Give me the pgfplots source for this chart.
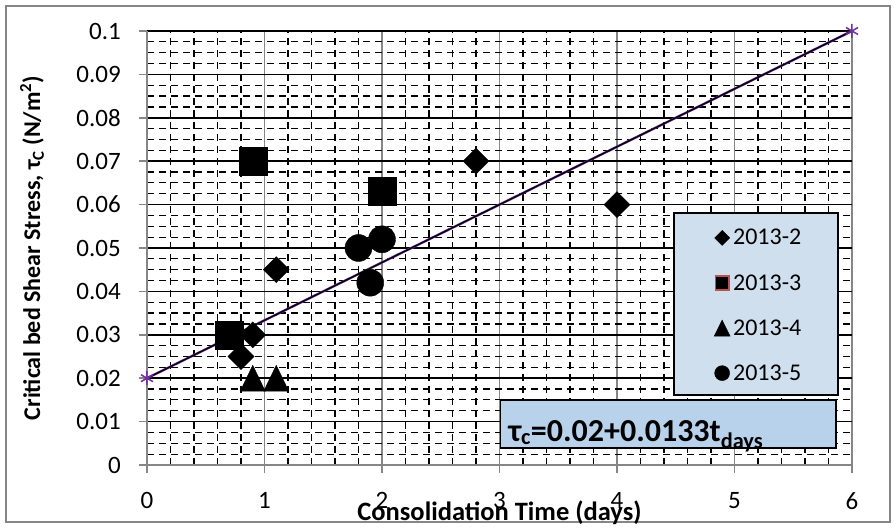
\documentclass[border=0pt]{standalone}
\usepackage{fontspec}
\setmainfont{Carlito}
\usepackage{pgfplots}
\pgfplotsset{compat=1.18}
\definecolor{gridgray}{RGB}{134,134,134}
\definecolor{trendpurple}{RGB}{112,48,160}
\definecolor{legfill}{RGB}{208,223,238}
\definecolor{eqfill}{RGB}{185,210,236}
\definecolor{sqedge}{RGB}{192,80,77}
\begin{document}
\begin{tikzpicture}
\useasboundingbox (-147pt,-64pt) rectangle (747pt,465pt);
\draw[gridgray, line width=1.5pt] (-141pt,-57pt) rectangle (743pt,459pt);
\begin{axis}[
  at={(0pt,0pt)}, anchor=south west,
  scale only axis, width=705pt, height=434pt,
  xmin=0, xmax=6, ymin=0, ymax=0.1,
  clip=false,
  xtick={0,1,2,3,4,5,6},
  ytick={0,0.01,0.02,0.03,0.04,0.05,0.06,0.07,0.08,0.09,0.1},
  minor x tick num=4, minor y tick num=3,
  grid=both,
  major x grid style={gridgray, line width=1.5pt},
  minor x grid style={black, line width=1.2pt, dash pattern=on 7pt off 5pt},
  major y grid style={black, line width=1.5pt},
  minor y grid style={black, line width=1.2pt, dash pattern=on 7pt off 5pt},
  axis x line*=bottom, axis y line*=left,
  axis line style={gridgray, line width=1.5pt, -},
  tick style={gridgray, line width=1.5pt},
  major tick length=8pt, minor tick length=0pt,
  tick align=outside,
  /pgf/number format/assume math mode=true,
  tick label style={font=\fontsize{25}{30}\selectfont},
  yticklabel style={/pgf/number format/fixed, /pgf/number format/precision=2, anchor=east, inner sep=0pt, xshift=-18pt},
  xticklabel style={anchor=north, inner sep=0pt, yshift=-19pt},
  xlabel={\bfseries Consolidation Time (days)},
  ylabel={\bfseries Critical bed Shear Stress, τ\textsubscript{C} (N/m\textsuperscript{2})},
  x label style={font=\fontsize{26.5}{31}\selectfont, at={(axis description cs:0.5,-0.129)}, anchor=base},
  y label style={font=\fontsize{24}{29}\selectfont, at={(axis description cs:-0.163,0.5)}, anchor=center, rotate=0},
  legend cell align=left,
  legend style={draw=none, fill=none, at={(axis description cs:0.800,0.548)}, anchor=north west,
    font=\fontsize{24}{28}\selectfont, row sep=28pt, column sep=3pt,
    nodes={inner sep=0pt}},
]
% trend line
\addplot[forget plot, trendpurple, line width=2.4pt, mark=asterisk, mark size=7pt, mark options={line width=1.5pt}] coordinates {(0,0.02) (6,0.1)};
\addplot[forget plot, black, line width=1.3pt] coordinates {(0,0.02) (6,0.1)};
% 2013-2
\addplot[forget plot, only marks, mark=square*, mark size=9.2pt, mark options={rotate=45, fill=black, draw=black}] coordinates {(0.8,0.025) (0.9,0.03) (1.1,0.045) (2.8,0.07) (4,0.06)};
% 2013-3
\addplot[forget plot, only marks, mark=square*, mark size=14pt, mark options={fill=black, draw=black}] coordinates {(0.7,0.03) (0.9,0.07) (2,0.063)};
% 2013-4
\addplot[forget plot, only marks, mark=triangle*, mark size=14.4pt, mark options={yshift=-4.3pt, yscale=1.2, fill=black, draw=black}] coordinates {(0.9,0.02) (1.1,0.02)};
% 2013-5
\addplot[forget plot, only marks, mark=*, mark size=13.5pt, mark options={fill=black, draw=black}] coordinates {(1.8,0.05) (1.9,0.042) (2,0.052)};
% boxes
\draw[fill=legfill, line width=1.5pt] (axis cs:4.485,0.01613) rectangle (axis cs:5.881,0.05806);
\draw[fill=eqfill, line width=1.5pt] (axis cs:3.01,0.0039) rectangle (axis cs:5.864,0.0150);
\node[anchor=base west, inner sep=0pt, font=\fontsize{32}{38}\selectfont\bfseries] at (axis cs:3.075,0.0055) {τ\textsubscript{c}=0.02+0.0133t\textsubscript{days}};
% legend
\addlegendimage{only marks, mark=square*, mark size=5.3pt, mark options={rotate=45, fill=black, draw=black}}
\addlegendentry{2013-2}
\addlegendimage{only marks, mark=square*, mark size=6.8pt, mark options={fill=black, draw=sqedge, line width=1.5pt}}
\addlegendentry{2013-3}
\addlegendimage{only marks, mark=triangle*, mark size=9.2pt, mark options={yshift=-2.7pt, yscale=1.16, fill=black, draw=black}}
\addlegendentry{2013-4}
\addlegendimage{only marks, mark=*, mark size=7.5pt, mark options={fill=black, draw=black}}
\addlegendentry{2013-5}
\end{axis}
\end{tikzpicture}
\end{document}
